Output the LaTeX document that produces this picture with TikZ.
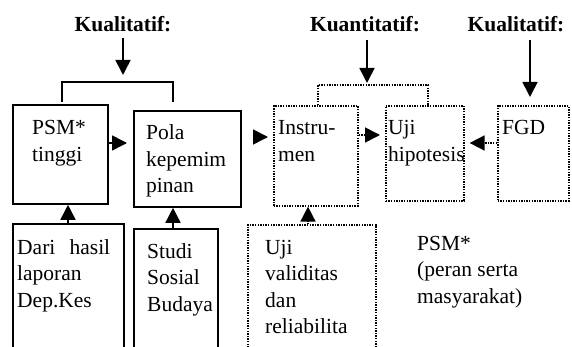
\documentclass[tikz,border=0pt]{standalone}
\usepackage{fontspec}
\setmainfont{Liberation Serif}
\usetikzlibrary{arrows.meta,calc}
\newcommand\boxlines[1]{\begin{tabular}[t]{@{}l@{}}#1\end{tabular}}
\begin{document}
\begin{tikzpicture}[x=1pt,y=-1pt,
  box/.style={draw,line width=1.8pt,anchor=north west,inner sep=0pt,minimum width=#1},
  dbox/.style={draw,line width=1.6pt,dash pattern=on 1.4pt off 1.2pt,anchor=north west,inner sep=0pt,minimum width=#1},
  txt/.style={font=\fontsize{21.5pt}{26.5pt}\selectfont,anchor=base west,inner sep=0pt},
  hd/.style={font=\fontsize{21.5pt}{26.5pt}\selectfont\bfseries,anchor=base,inner sep=0pt},
  arr/.style={line width=1.6pt,-{Triangle[length=15pt,width=15pt]}},
  dotl/.style={line width=1.6pt,dash pattern=on 1.4pt off 1.2pt},
  ln/.style={line width=1.8pt}]
\clip (0,0) rectangle (572,347);
% boxes
\node[box=95pt,minimum height=99pt] (psm) at (12,104) {};
\node[box=107pt,minimum height=96pt] (pola) at (133,110) {};
\node[dbox=84pt,minimum height=100pt] (instr) at (273,105) {};
\node[dbox=78pt,minimum height=95pt] (uji) at (385,105) {};
\node[dbox=71pt,minimum height=95pt] (fgd) at (497,105) {};
\node[box=111pt,minimum height=140pt] (dari) at (12,223) {};
\node[box=84pt,minimum height=140pt] (studi) at (133,228) {};
\node[dbox=128pt,minimum height=140pt] (ujiv) at (247,224) {};
% headings
\node[hd] (kual1) at (123,32) {Kualitatif:};
\node[hd] (kuan) at (365,32) {Kuantitatif:};
\node[hd] (kual2) at (516,32) {Kualitatif:};
% texts
\node[txt] (psmT) at (32,135) {\boxlines{PSM*\\tinggi}};
\node[txt] (polaT) at (146,140) {\boxlines{Pola\\kepemim\\pinan}};
\node[txt] (instrT) at (278,135) {\boxlines{Instru-\\men}};
\node[txt] (ujiT) at (388,135) {\boxlines{Uji\\hipotesis}};
\node[txt] (fgdT) at (502,135) {FGD};
\node[txt] (dariT) at (17,254) {\boxlines{\hbox to 93pt{Dari\hfil hasil}\\laporan\\Dep.Kes}};
\node[txt] (studiT) at (147,258) {\boxlines{Studi\\Sosial\\Budaya}};
\node[txt] (ujivT) at (265,254) {\boxlines{Uji\\validitas\\dan\\reliabilita}};
\node[txt] (noteT) at (417,250) {\boxlines{PSM*\\(peran serta\\masyarakat)}};
% coordinates
\coordinate (b1) at (123,75);
\coordinate (b2) at (367,83);
% left heading + bracket
\draw[arr,shorten <=5pt] (kual1.south) -- (b1);
\draw[ln] (62,102) -- (62,82) -- (173,82) -- (173,102);
% quantitative heading + dotted bracket
\draw[arr,shorten <=7pt] (kuan.south -| b2) -- (b2);
\draw[dotl] (318,105) -- (318,85) -- (428,85) -- (428,105);
% right heading
\draw[arr,shorten <=7pt,shorten >=8pt] (kual2.south -| 530,0) -- (fgd.north -| 530,0);
% horizontal connectors
\draw[arr,shorten >=6pt] (psm.east |- 0,143) -- (pola.west |- 0,143);
\draw[arr,shorten <=13pt,shorten >=5pt] (pola.east |- 0,137) -- (instr.west |- 0,137);
\draw[dotl,arr,dash pattern=on 1.4pt off 1.2pt,shorten >=5pt] (instr.east |- 0,135) -- (uji.west |- 0,135);
\draw[dotl,arr,dash pattern=on 1.4pt off 1.2pt,shorten >=5pt] (fgd.west |- 0,143) -- (uji.east |- 0,143);
% vertical connectors from bottom
\draw[arr] (dari.north -| 68,0) -- (psm.south -| 68,0);
\draw[arr] (studi.north -| 173,0) -- (pola.south -| 173,0);
\draw[dotl,arr,dash pattern=on 1.4pt off 1.2pt] (ujiv.north -| 308,0) -- (instr.south -| 308,0);
\end{tikzpicture}
\end{document}
